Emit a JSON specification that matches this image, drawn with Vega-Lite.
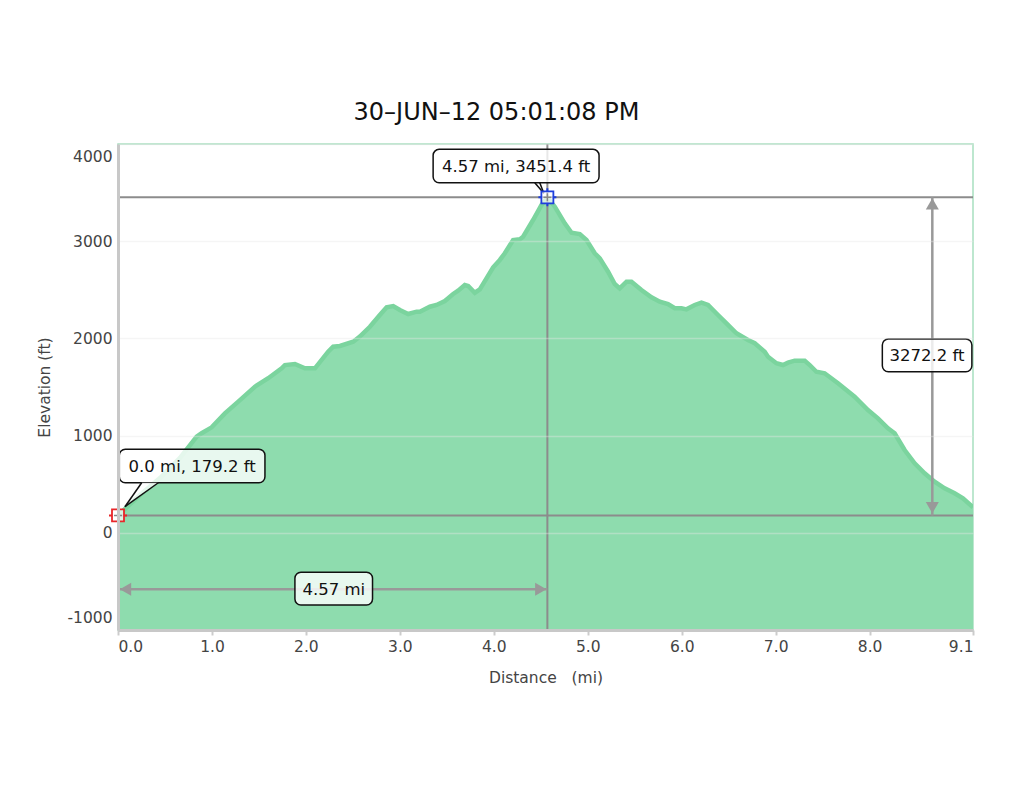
{
  "$schema": "https://vega.github.io/schema/vega-lite/v6.json",
  "width": 855,
  "height": 486,
  "autosize": {"type": "none"},
  "padding": {"left": 118, "top": 144, "right": 51, "bottom": 163},
  "background": "white",
  "config": {
    "view": {"stroke": "#a8e0c0", "strokeWidth": 1.5},
    "font": "DejaVu Sans"
  },
  "title": {
    "text": "30–JUN–12 05:01:08 PM",
    "font": "DejaVu Sans",
    "fontSize": 24,
    "fontWeight": "normal",
    "color": "#111111",
    "anchor": "middle",
    "baseline": "alphabetic",
    "offset": -1,
    "dx": -49
  },
  "datasets": {
    "profile": [
      {"d": 0, "e": 179.2}, {"d": 0.234, "e": 389}, {"d": 0.447, "e": 564}, {"d": 0.66, "e": 770},
      {"d": 0.837, "e": 989}, {"d": 0.89, "e": 1024}, {"d": 0.997, "e": 1085}, {"d": 1.138, "e": 1229},
      {"d": 1.28, "e": 1349}, {"d": 1.457, "e": 1503}, {"d": 1.599, "e": 1590}, {"d": 1.742, "e": 1692},
      {"d": 1.777, "e": 1726}, {"d": 1.883, "e": 1737}, {"d": 1.989, "e": 1692}, {"d": 2.096, "e": 1692},
      {"d": 2.237, "e": 1863}, {"d": 2.29, "e": 1915}, {"d": 2.362, "e": 1922}, {"d": 2.503, "e": 1966},
      {"d": 2.574, "e": 2018}, {"d": 2.681, "e": 2120}, {"d": 2.787, "e": 2241}, {"d": 2.859, "e": 2320},
      {"d": 2.929, "e": 2333}, {"d": 3.0, "e": 2292}, {"d": 3.088, "e": 2251}, {"d": 3.178, "e": 2275},
      {"d": 3.213, "e": 2275}, {"d": 3.319, "e": 2326}, {"d": 3.39, "e": 2344}, {"d": 3.479, "e": 2385},
      {"d": 3.567, "e": 2457}, {"d": 3.62, "e": 2491}, {"d": 3.691, "e": 2549}, {"d": 3.727, "e": 2539},
      {"d": 3.798, "e": 2470}, {"d": 3.851, "e": 2505}, {"d": 3.922, "e": 2618}, {"d": 3.993, "e": 2732},
      {"d": 4.064, "e": 2807}, {"d": 4.117, "e": 2876}, {"d": 4.205, "e": 3012}, {"d": 4.277, "e": 3020},
      {"d": 4.312, "e": 3046}, {"d": 4.418, "e": 3218}, {"d": 4.507, "e": 3372}, {"d": 4.57, "e": 3451.4},
      {"d": 4.649, "e": 3355}, {"d": 4.755, "e": 3184}, {"d": 4.827, "e": 3087}, {"d": 4.915, "e": 3074},
      {"d": 4.986, "e": 3012}, {"d": 5.074, "e": 2876}, {"d": 5.128, "e": 2824}, {"d": 5.216, "e": 2686},
      {"d": 5.287, "e": 2560}, {"d": 5.34, "e": 2515}, {"d": 5.412, "e": 2583}, {"d": 5.465, "e": 2583},
      {"d": 5.571, "e": 2498}, {"d": 5.678, "e": 2423}, {"d": 5.766, "e": 2378}, {"d": 5.854, "e": 2354},
      {"d": 5.926, "e": 2310}, {"d": 5.997, "e": 2310}, {"d": 6.05, "e": 2299}, {"d": 6.138, "e": 2344},
      {"d": 6.21, "e": 2367}, {"d": 6.28, "e": 2344}, {"d": 6.386, "e": 2241}, {"d": 6.476, "e": 2155},
      {"d": 6.582, "e": 2053}, {"d": 6.705, "e": 1984}, {"d": 6.777, "e": 1950}, {"d": 6.883, "e": 1863},
      {"d": 6.918, "e": 1812}, {"d": 7.007, "e": 1744}, {"d": 7.078, "e": 1726}, {"d": 7.131, "e": 1750},
      {"d": 7.202, "e": 1771}, {"d": 7.309, "e": 1771}, {"d": 7.362, "e": 1726}, {"d": 7.433, "e": 1657},
      {"d": 7.521, "e": 1641}, {"d": 7.663, "e": 1538}, {"d": 7.84, "e": 1400}, {"d": 7.982, "e": 1263},
      {"d": 8.088, "e": 1178}, {"d": 8.195, "e": 1075}, {"d": 8.266, "e": 1024}, {"d": 8.372, "e": 852},
      {"d": 8.479, "e": 715}, {"d": 8.585, "e": 612}, {"d": 8.691, "e": 526}, {"d": 8.798, "e": 458},
      {"d": 8.904, "e": 406}, {"d": 8.993, "e": 355}, {"d": 9.1, "e": 262}
    ],
    "hlines": [{"e": 3451.4}, {"e": 179.2}],
    "vlines": [{"d": 4.57}],
    "arrows": [
      {"d": 8.667, "d2": 8.667, "e": 179.2, "e2": 3451.4},
      {"d": 0, "d2": 4.57, "e": -580, "e2": -580}
    ],
    "heads": [
      {"d": 8.667, "e": 3383, "dir": "up"},
      {"d": 8.667, "e": 258, "dir": "down"},
      {"d": 0.08, "e": -580, "dir": "left"},
      {"d": 4.5, "e": -580, "dir": "right"}
    ],
    "boxes": [
      {"d": 0.014, "d2": 1.564, "e": 515, "e2": 859},
      {"d": 3.354, "d2": 5.12, "e": 3602, "e2": 3945},
      {"d": 8.135, "d2": 9.088, "e": 1657, "e2": 1994},
      {"d": 1.883, "d2": 2.709, "e": -743, "e2": -406}
    ],
    "wedge": [
      {"d": 0.074, "e": 268.5, "e2": 268.5},
      {"d": 0.252, "e": 515, "e2": 392},
      {"d": 0.429, "e": 515, "e2": 515}
    ],
    "pointers": [
      {"d": 0.252, "e": 515, "d2": 0.074, "e2": 268.5},
      {"d": 0.429, "e": 515, "d2": 0.074, "e2": 268.5},
      {"d": 4.436, "e": 3602, "d2": 4.532, "e2": 3493},
      {"d": 4.489, "e": 3602, "d2": 4.532, "e2": 3493}
    ],
    "labels": [
      {"d": 0.789, "e": 687, "text": "0.0 mi, 179.2 ft"},
      {"d": 4.237, "e": 3774, "text": "4.57 mi, 3451.4 ft"},
      {"d": 8.61, "e": 1825, "text": "3272.2 ft"},
      {"d": 2.296, "e": -575, "text": "4.57 mi"}
    ],
    "markers": [
      {"d": 0, "e": 179.2, "kind": "start"},
      {"d": 4.57, "e": 3451.4, "kind": "peak"}
    ]
  },
  "encoding": {
    "x": {
      "field": "d", "type": "quantitative",
      "scale": {"domain": [0, 9.1], "nice": false, "zero": false},
      "axis": {
        "title": "Distance\u00a0\u00a0\u00a0(mi)",
        "values": [0, 1, 2, 3, 4, 5, 6, 7, 8, 9.1],
        "format": ".1f",
        "labelFlush": true,
        "grid": false,
        "zindex": 1,
        "domainColor": "#c8c8c8", "domainWidth": 3,
        "tickColor": "#cccccc", "tickSize": 5, "tickWidth": 2,
        "labelFont": "DejaVu Sans", "labelFontSize": 15.5, "labelColor": "#444444", "labelPadding": 4,
        "titleFont": "DejaVu Sans", "titleFontSize": 15.5, "titleFontWeight": "normal", "titleColor": "#444444", "titlePadding": 16
      }
    },
    "y": {
      "field": "e", "type": "quantitative",
      "scale": {"domain": [-1000, 4000], "nice": false, "zero": false},
      "axis": {
        "title": "Elevation (ft)",
        "values": [-1000, 0, 1000, 2000, 3000, 4000],
        "labelExpr": "'' + datum.value",
        "labelFlush": true,
        "labelFlushOffset": -5,
        "grid": true, "gridColor": "#e6e6e6", "gridOpacity": 0.4, "gridWidth": 1.5,
        "zindex": 1,
        "ticks": false,
        "domainColor": "#c8c8c8", "domainWidth": 3,
        "labelFont": "DejaVu Sans", "labelFontSize": 15.5, "labelColor": "#444444", "labelPadding": 6,
        "titleFont": "DejaVu Sans", "titleFontSize": 15.5, "titleFontWeight": "normal", "titleColor": "#444444", "titlePadding": 14
      }
    }
  },
  "layer": [
    {
      "data": {"name": "profile"},
      "mark": {"type": "area", "color": "#8edcae", "opacity": 1, "clip": true},
      "encoding": {"y2": {"datum": -1000}}
    },
    {
      "data": {"name": "profile"},
      "mark": {"type": "line", "color": "#7bd49e", "strokeWidth": 4.5, "clip": true},
      "encoding": {}
    },
    {
      "data": {"name": "hlines"},
      "mark": {"type": "rule", "color": "#8c8c8c", "strokeWidth": 2},
      "encoding": {"x": null}
    },
    {
      "data": {"name": "vlines"},
      "mark": {"type": "rule", "color": "#8c8c8c", "strokeWidth": 2},
      "encoding": {"y": null}
    },
    {
      "data": {"name": "arrows"},
      "mark": {"type": "rule", "color": "#999999", "strokeWidth": 2.5},
      "encoding": {"x2": {"field": "d2"}, "y2": {"field": "e2"}}
    },
    {
      "data": {"name": "heads"},
      "mark": {"type": "point", "filled": true, "color": "#999999", "opacity": 1, "size": 170},
      "encoding": {
        "shape": {
          "field": "dir", "type": "nominal", "legend": null,
          "scale": {"domain": ["up", "down", "left", "right"], "range": ["triangle-up", "triangle-down", "triangle-left", "triangle-right"]}
        }
      }
    },
    {
      "data": {"name": "boxes"},
      "mark": {"type": "rect", "fill": "white", "fillOpacity": 0.8, "stroke": "#111111", "strokeWidth": 1.5, "cornerRadius": 6},
      "encoding": {"x2": {"field": "d2"}, "y2": {"field": "e2"}}
    },
    {
      "data": {"name": "wedge"},
      "mark": {"type": "area", "color": "white", "opacity": 0.8},
      "encoding": {"y2": {"field": "e2"}}
    },
    {
      "data": {"name": "pointers"},
      "mark": {"type": "rule", "color": "#111111", "strokeWidth": 1.5},
      "encoding": {"x2": {"field": "d2"}, "y2": {"field": "e2"}}
    },
    {
      "data": {"name": "labels"},
      "mark": {"type": "text", "font": "DejaVu Sans", "fontSize": 16.5, "color": "#111111", "align": "center", "baseline": "middle", "dy": 1},
      "encoding": {"text": {"field": "text"}}
    },
    {
      "data": {"name": "markers"},
      "mark": {"type": "point", "shape": "M-1,0L-0.55,0M0.55,0L1,0M0,-1L0,-0.55M0,0.55L0,1", "size": 324, "filled": false, "strokeWidth": 2, "opacity": 1},
      "encoding": {
        "stroke": {"field": "kind", "type": "nominal", "legend": null, "scale": {"domain": ["start", "peak"], "range": ["#e8262a", "#1f3fdc"]}}
      }
    },
    {
      "data": {"name": "markers"},
      "mark": {"type": "point", "shape": "square", "size": 144, "fill": "white", "fillOpacity": 0.7, "strokeWidth": 1.8, "opacity": 1},
      "encoding": {
        "stroke": {"field": "kind", "type": "nominal", "legend": null, "scale": {"domain": ["start", "peak"], "range": ["#e8262a", "#1f3fdc"]}}
      }
    },
    {
      "data": {"name": "markers"},
      "mark": {"type": "point", "shape": "M-1,0L1,0M0,-1L0,1", "size": 64, "filled": false, "color": "#888888", "strokeWidth": 1.5, "opacity": 1},
      "encoding": {}
    }
  ]
}
